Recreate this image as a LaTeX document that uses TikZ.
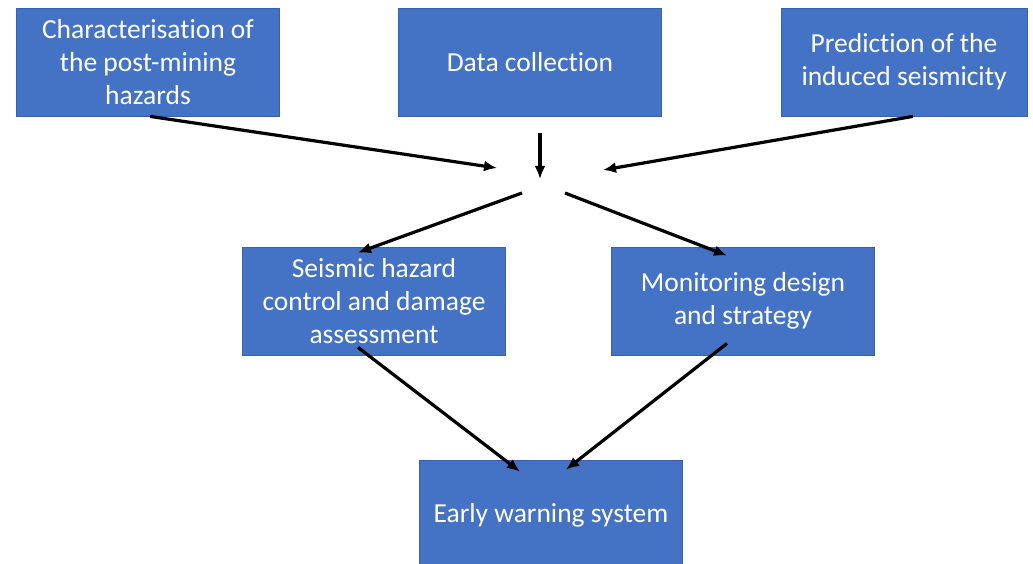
\documentclass[tikz,border=0pt]{standalone}
\usepackage{fontspec}
\setmainfont[Ligatures={NoCommon}]{Carlito}
\usetikzlibrary{positioning,arrows.meta,calc}
\definecolor{pmblue}{HTML}{4472C4}
\definecolor{pmedge}{HTML}{3862B0}

\begin{document}
\begin{tikzpicture}[x=1pt,y=-1pt,>={Latex[length=13pt,width=11pt]},
  box/.style={draw=pmedge,line width=0.8pt,fill=pmblue,text=white,align=center,
              minimum width=263pt,minimum height=108pt,inner sep=0pt,
              font=\fontsize{27.5}{33}\selectfont},
  arr/.style={->,line width=3.2pt,black}]
\useasboundingbox (0,0) rectangle (1033,564);
\node[box] (hz) at (148,62) {Characterisation of\\the post-mining\\hazards};
\node[box] (dc) at (530,62) {Data collection};
\node[box,minimum width=246pt] (ps) at (904,62) {Prediction of the\\induced seismicity};
\node[box] (sh) at (374,301) {Seismic hazard\\control and damage\\assessment};
\node[box] (md) at (743,301) {Monitoring design\\and strategy};
\node[box,minimum height=110pt] (ew) at (551,515) {Early warning system};
% free ends in the middle
\coordinate (dcs) at (540,133);
\coordinate (inl) at (497,168);
\coordinate (inm) at (540,179);
\coordinate (inr) at (603,170);
\coordinate (outl) at (522,193);
\coordinate (outr) at (565,193);
\draw[arr] ([xshift=2pt]hz.south) -- (inl);
\draw[arr] (dcs) -- (inm);
\draw[arr] ([xshift=9pt]ps.south) -- (inr);
\draw[arr] (outl) -- ([xshift=-16pt,yshift=-6pt]sh.north);
\draw[arr] (outr) -- ([xshift=-16pt,yshift=-9pt]md.north);
\draw[arr] ([xshift=-16pt,yshift=8pt]sh.south) -- ([xshift=-31pt,yshift=-12pt]ew.north);
\draw[arr] ([xshift=-16pt,yshift=12pt]md.south) -- ([xshift=15pt,yshift=-10pt]ew.north);
\end{tikzpicture}
\end{document}
